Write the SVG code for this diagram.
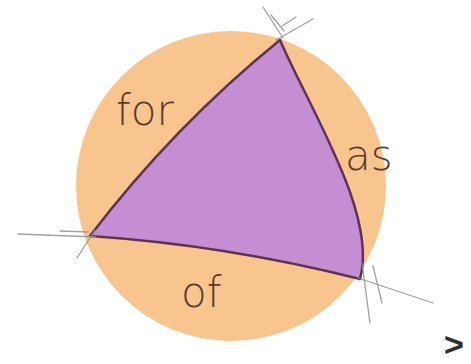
<svg xmlns="http://www.w3.org/2000/svg" width="471" height="364" viewBox="0 0 471 364">
<style>
.lbl{font-family:"DejaVu Sans","Liberation Sans",sans-serif;font-weight:200;font-size:42px;fill:#5c3a2c}
.edge{fill:none;stroke:#5e3352;stroke-width:2.5;stroke-linecap:round}
.guide{fill:none;stroke:#8f9090;stroke-width:1.3;stroke-linecap:round;opacity:0.85}
</style>
<rect width="471" height="364" fill="#ffffff"/>
<g id="disc">
<circle cx="231" cy="186" r="155" fill="#f8c58f"/>
</g>
<g id="triangle">
<path d="M90,236 Q173,127 280,40 C310,110 378,215 360,279 Q225,245 90,236 Z" fill="#c68ed2"/>
</g>
<g id="connectors">
<path class="edge" d="M90,236 Q173,127 280,40"/>
<path class="edge" d="M280,40 C310,110 378,215 360,279"/>
<path class="edge" d="M360,279 Q225,245 90,236"/>
<line class="guide" x1="263" y1="7" x2="283" y2="38"/>
<line class="guide" x1="271" y1="15" x2="284" y2="31"/>
<line class="guide" x1="313" y1="19" x2="276" y2="40"/>
<line class="guide" x1="296" y1="17" x2="282" y2="26"/>
<line class="guide" x1="18" y1="234" x2="96" y2="237"/>
<line class="guide" x1="60" y1="231" x2="88" y2="232"/>
<line class="guide" x1="77" y1="258" x2="95" y2="230"/>
<line class="guide" x1="362" y1="263" x2="370" y2="323"/>
<line class="guide" x1="373" y1="266" x2="382" y2="303"/>
<line class="guide" x1="358" y1="278" x2="433" y2="303"/>
</g>
<g id="labels">
<text class="lbl" x="116" y="125">for</text>
<text class="lbl" x="345" y="170">as</text>
<text class="lbl" x="181" y="307">of</text>
<text x="444" y="356" font-family="Liberation Sans,Arial,sans-serif" font-weight="bold" font-size="34" fill="#2e2e2e">&gt;</text>
</g>
</svg>
